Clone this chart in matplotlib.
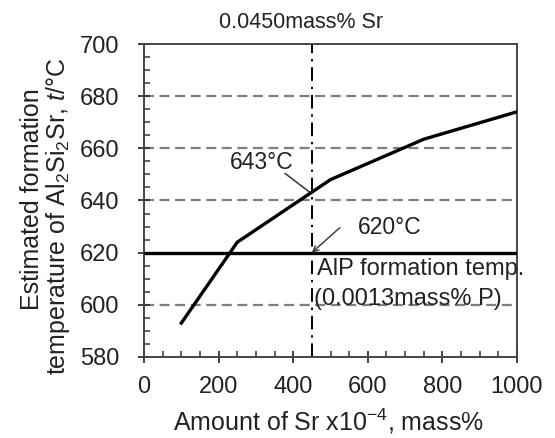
import matplotlib
matplotlib.use("Agg")
import matplotlib.pyplot as plt
from matplotlib.ticker import MultipleLocator

# data
sr_amount = [100, 250, 500, 750, 1000]
formation_temp = [593, 624, 648, 663.5, 674]
alp_temp = 620
sr_mark = 450
temp_at_mark = 643
grid_levels = [600, 640, 660, 680]

plt.rcParams['font.family'] = ['Liberation Sans', 'DejaVu Sans']
plt.rcParams['mathtext.fontset'] = 'custom'
plt.rcParams['mathtext.rm'] = 'Liberation Sans'
plt.rcParams['mathtext.it'] = 'Liberation Sans:italic'
plt.rcParams['mathtext.default'] = 'regular'

txt_color = '#222222'

fig = plt.figure(figsize=(5.55, 4.38), dpi=100)
ax = fig.add_axes([0.2595, 0.185, 0.672, 0.7145])

ax.set_xlim(0, 1000)
ax.set_ylim(580, 700)

for lv in grid_levels:
    ax.axhline(lv, color='#7f7f7f', lw=1.6, ls=(0, (4.5, 2.5)), zorder=1)

ax.axvline(sr_mark, color='black', lw=1.4, ls=(0, (7, 3, 1.2, 3)), zorder=2)
ax.axhline(alp_temp, color='black', lw=2.4, zorder=3)
ax.plot(sr_amount, formation_temp, color='black', lw=2.4, zorder=4)

# annotations: leader lines drawn apart from their labels
ax.annotate('', xy=(sr_mark - 6, temp_at_mark + 0.2), xytext=(378, 650.4),
            arrowprops=dict(arrowstyle='-', color='#333333', lw=1.1,
                            shrinkA=0, shrinkB=0))
ax.text(316, 654.5, '643°C', ha='center', va='center', fontsize=16.5,
        color=txt_color)
ax.annotate('', xy=(sr_mark, alp_temp), xytext=(525, 629.6),
            arrowprops=dict(arrowstyle='->', color='#333333', lw=1.0,
                            shrinkA=0, shrinkB=0))
ax.text(658, 629.5, '620°C', ha='center', va='center', fontsize=16.5,
        color=txt_color)
ax.text(463, 613.7, 'AlP formation temp.', ha='left', va='center',
        fontsize=17, color=txt_color, clip_on=False)
ax.text(456, 602.3, '(0.0013mass% P)', ha='left', va='center',
        fontsize=17, color=txt_color, clip_on=False)

ax.text(422, 708.4, '0.0450mass% Sr', ha='center', va='center',
        fontsize=15.5, color=txt_color, clip_on=False)

ax.xaxis.set_major_locator(MultipleLocator(200))
ax.xaxis.set_minor_locator(MultipleLocator(50))
ax.yaxis.set_major_locator(MultipleLocator(20))
ax.yaxis.set_minor_locator(MultipleLocator(5))
ax.tick_params(which='major', direction='inout', length=9, width=1.3,
               color='#333333', labelsize=17, labelcolor=txt_color)
ax.tick_params(axis='x', which='major', pad=9)
ax.tick_params(axis='y', which='major', pad=13)
ax.tick_params(which='minor', direction='in', length=4, width=1.1,
               color='#333333')
ax.tick_params(top=False, right=False)

for sp in ax.spines.values():
    sp.set_color('#444444')
    sp.set_linewidth(1.4)

fig.text(328 / 555, 1 - 421 / 438, r'Amount of Sr x10$^{-4}$, mass%',
         ha='center', va='center', fontsize=18, color=txt_color)
fig.text(32 / 555, 1 - 199 / 438, 'Estimated formation', rotation=90,
         ha='center', va='center', fontsize=18, color=txt_color)
fig.text(58 / 555, 1 - 216 / 438,
         r'temperature of Al$_2$Si$_2$Sr, $\it{t}$/°C', rotation=90,
         ha='center', va='center', fontsize=18, color=txt_color)

plt.savefig('out.png', dpi=100)
